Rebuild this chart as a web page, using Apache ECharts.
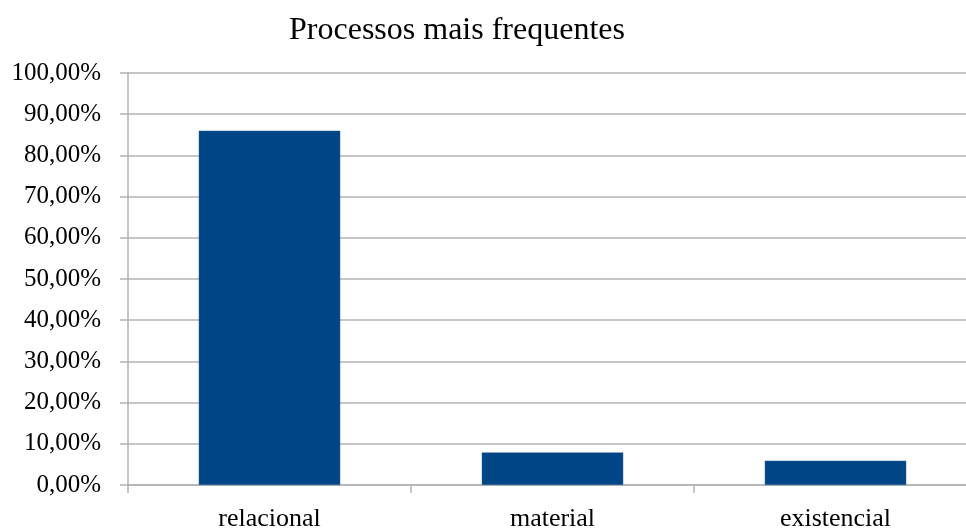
<!DOCTYPE html>
<html>
<head>
<meta charset="utf-8">
<script src="https://cdn.jsdelivr.net/npm/echarts@6/dist/echarts.min.js"></script>
<style>
  html, body { margin: 0; padding: 0; background: #ffffff; overflow: hidden; }
  #wrap { width: 966px; height: 532px; overflow: hidden; }
  /* canvas is a bit wider than the view so the plot can run past the right edge */
  #chart { width: 1000px; height: 532px; }
</style>
</head>
<body>
<div id="wrap"><div id="chart"></div></div>
<script>
// Share of each process type (percent)
const categories = ['relacional', 'material', 'existencial'];
const shares = [86.0, 7.9, 5.9];
const yTicks = [0, 10, 20, 30, 40, 50, 60, 70, 80, 90, 100];

const fontFamily = '"Liberation Serif", "Times New Roman", serif';

const chart = echarts.init(document.getElementById('chart'), null, { renderer: 'canvas' });

chart.setOption({
  animation: false,
  backgroundColor: '#ffffff',
  title: {
    text: 'Processos mais frequentes',
    left: 452,
    top: 10,
    textAlign: 'center',
    textStyle: { fontFamily, fontSize: 32, fontWeight: 'normal', color: '#000000' }
  },
  grid: { left: 128, top: 73, width: 849, height: 416, containLabel: false },
  xAxis: {
    type: 'category',
    data: categories,
    axisLine: { lineStyle: { color: '#b3b3b3', width: 1.5 } },
    axisTick: { show: true, length: 8, lineStyle: { color: '#b3b3b3', width: 1.5 } },
    axisLabel: { fontFamily, fontSize: 26, color: '#000000', margin: 21 }
  },
  yAxis: {
    type: 'value',
    min: yTicks[0],
    max: yTicks[yTicks.length - 1],
    interval: yTicks[1] - yTicks[0],
    axisLine: { show: true, lineStyle: { color: '#b3b3b3', width: 1.5 } },
    axisTick: { show: true, length: 8, lineStyle: { color: '#b3b3b3', width: 1.5 } },
    splitLine: { lineStyle: { color: '#b3b3b3', width: 1.5 } },
    axisLabel: {
      fontFamily, fontSize: 25, color: '#000000', margin: 27,
      formatter: v => v.toFixed(2).replace('.', ',') + '%'
    }
  },
  series: [{
    type: 'bar',
    data: shares,
    barWidth: '50%',
    itemStyle: { color: '#004586', borderColor: '#2f6aa3', borderWidth: 0.5 }
  }]
});
</script>
</body>
</html>
